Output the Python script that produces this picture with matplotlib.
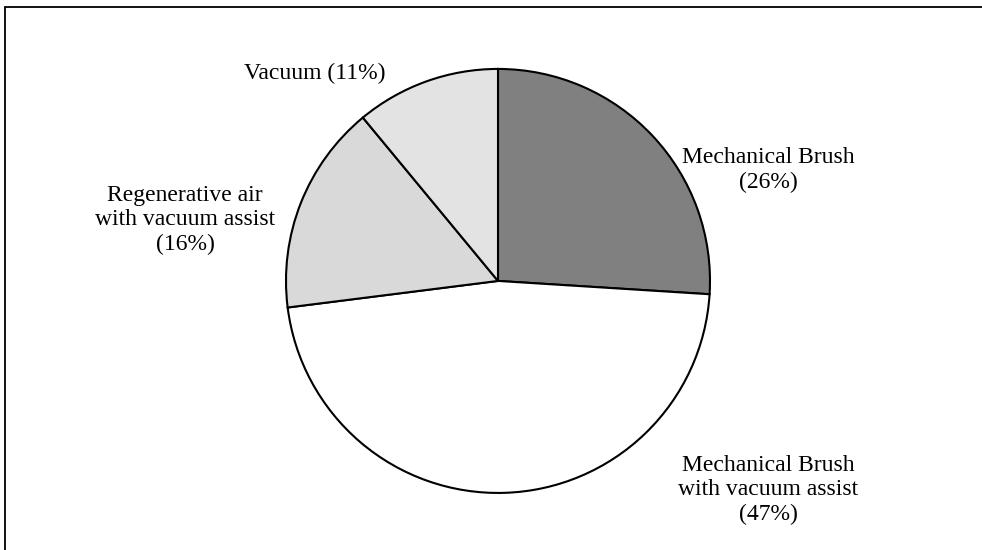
import matplotlib.pyplot as plt
from matplotlib.patches import Rectangle

# data
categories = ["Mechanical Brush", "Mechanical Brush\nwith vacuum assist",
              "Regenerative air\nwith vacuum assist", "Vacuum"]
shares = [26, 47, 16, 11]
colors = ["#808080", "#ffffff", "#d9d9d9", "#e3e3e3"]

plt.rcParams['font.family'] = ['Liberation Serif', 'DejaVu Serif']

fig = plt.figure(figsize=(9.82, 5.5), dpi=100)
ax = fig.add_axes([0, 0, 1, 1])

wedges, _ = ax.pie(shares, colors=colors, startangle=90, counterclock=False,
                   radius=1, center=(0, 0),
                   wedgeprops=dict(edgecolor="black", linewidth=1.5))
ax.set_aspect("equal")
ax.set_xlim(-2.349, 2.283)
ax.set_ylim(-1.269, 1.325)
ax.axis("off")

label_pos = [(1.274, 0.524), (1.274, -0.986), (-1.476, 0.288), (-0.863, 0.981)]
for name, val, (x, y) in zip(categories, shares, label_pos):
    sep = "\n" if "\n" in name or val == 26 else " "
    ax.text(x, y, f"{name}{sep}({val}%)", ha="center", va="center",
            fontsize=17, linespacing=1.2, color="black")

# outer frame
fig.patches.append(Rectangle((5 / 982, -0.05), 1.2, 1 - 7 / 550 + 0.05,
                             transform=fig.transFigure, fill=False,
                             edgecolor="black", linewidth=1.3))

fig.savefig("out.png", dpi=100)
